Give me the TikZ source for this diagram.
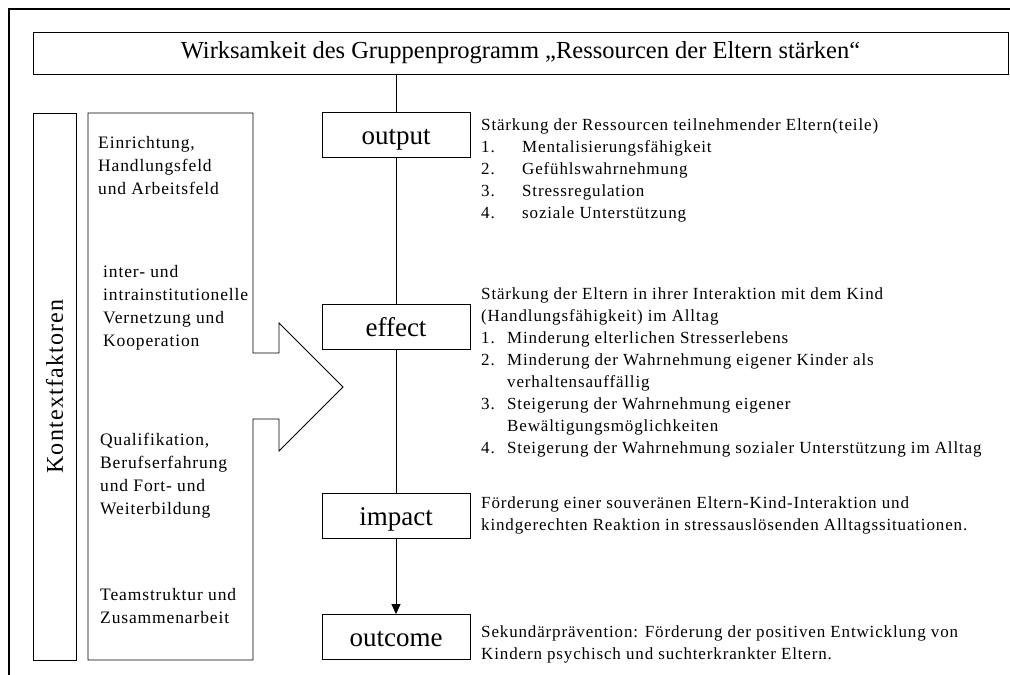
\documentclass[tikz,border=0pt]{standalone}
\usepackage{fontspec}
\setmainfont{Liberation Serif}
\newfontfamily\lsfont[LetterSpace=5]{Liberation Serif}
\usetikzlibrary{arrows.meta}
\newcommand{\nr}[1]{\makebox[26pt][l]{#1}}
\newcommand{\nrw}[1]{\makebox[41pt][l]{#1}}
\begin{document}
\begin{tikzpicture}[x=1pt,y=-1pt,
  box/.style={draw, line width=0.9pt, inner sep=0pt},
  flow/.style={box, minimum width=148pt, minimum height=45pt, text height=18pt, text depth=0pt, font=\fontsize{27}{30}\selectfont},
  txt/.style={anchor=base west, inner sep=0pt, font=\lsfont\fontsize{17}{22}\selectfont},
  ltxt/.style={anchor=base west, inner sep=0pt, font=\lsfont\fontsize{17.5}{23}\selectfont},
  conn/.style={line width=0.9pt}]
\useasboundingbox (0,0) rectangle (1010,675);
% outer frame
\draw[line width=1.6pt] (9,675) -- (9,9) -- (1010,9);
% title
\node[box, minimum width=975pt, minimum height=42pt, font=\fontsize{24.5}{28}\selectfont] (title) at (520.5,53) {Wirksamkeit des Gruppenprogramm „Ressourcen der Eltern stärken“};
% Kontextfaktoren
\node[box, minimum width=43pt, minimum height=547pt] (kf) at (54.5,386.5) {};
\node[rotate=90, inner sep=0pt, font=\lsfont\fontsize{24}{30}\selectfont] (kftxt) at (kf.center) {Kontextfaktoren};
% arrow-shaped box
\draw[conn] (88,113) -- (253,113) -- (253,353) -- (279,353) -- (279,323) -- (343,387) -- (279,451) -- (279,419) -- (253,419) -- (253,660) -- (88,660) -- cycle;
\node[ltxt] (l1) at (98,148) {\begin{tabular}[t]{@{}l@{}}Einrichtung,\\Handlungsfeld\\und Arbeitsfeld\end{tabular}};
\node[ltxt] (l2) at (103,277) {\begin{tabular}[t]{@{}l@{}}inter- und\\intrainstitutionelle\\Vernetzung und\\Kooperation\end{tabular}};
\node[ltxt] (l3) at (100,445) {\begin{tabular}[t]{@{}l@{}}Qualifikation,\\Berufserfahrung\\und Fort- und\\Weiterbildung\end{tabular}};
\node[ltxt] (l4) at (100,600) {\begin{tabular}[t]{@{}l@{}}Teamstruktur und\\Zusammenarbeit\end{tabular}};
% flow boxes
\node[flow] (out) at (396,135) {output};
\node[flow] (eff) at (396,327) {effect};
\node[flow] (imp) at (396,516) {impact};
\node[flow] (outc) at (396,637) {outcome};
\draw[conn] (out.north) -- (out.north |- title.south);
\draw[conn] (out.south) -- (eff.north);
\draw[conn] (eff.south) -- (imp.north);
\draw[conn, -{Triangle[length=10pt,width=9pt]}] (imp.south) -- (outc.north);
% texts
\node[txt] (outtxt) at (481,130) {\begin{tabular}[t]{@{}l@{}}Stärkung der Ressourcen teilnehmender Eltern(teile)\\
\nrw{1.}Mentalisierungsfähigkeit\\
\nrw{2.}Gefühlswahrnehmung\\
\nrw{3.}Stressregulation\\
\nrw{4.}soziale Unterstützung\end{tabular}};
\node[txt] (efftxt) at (481,299) {\begin{tabular}[t]{@{}l@{}}Stärkung der Eltern in ihrer Interaktion mit dem Kind\\
(Handlungsfähigkeit) im Alltag\\
\nr{1.}Minderung elterlichen Stresserlebens\\
\nr{2.}Minderung der Wahrnehmung eigener Kinder als\\
\nr{}verhaltensauffällig\\
\nr{3.}Steigerung der Wahrnehmung eigener\\
\nr{}Bewältigungsmöglichkeiten\\
\nr{4.}Steigerung der Wahrnehmung sozialer Unterstützung im Alltag\end{tabular}};
\node[txt] (imptxt) at (481,508) {\begin{tabular}[t]{@{}l@{}}Förderung einer souveränen Eltern-Kind-Interaktion und\\
kindgerechten Reaktion in stressauslösenden Alltagssituationen.\end{tabular}};
\node[txt] (outctxt) at (481,637) {\begin{tabular}[t]{@{}l@{}}Sekundärprävention: Förderung der positiven Entwicklung von\\
Kindern psychisch und suchterkrankter Eltern.\end{tabular}};
\end{tikzpicture}
\end{document}
